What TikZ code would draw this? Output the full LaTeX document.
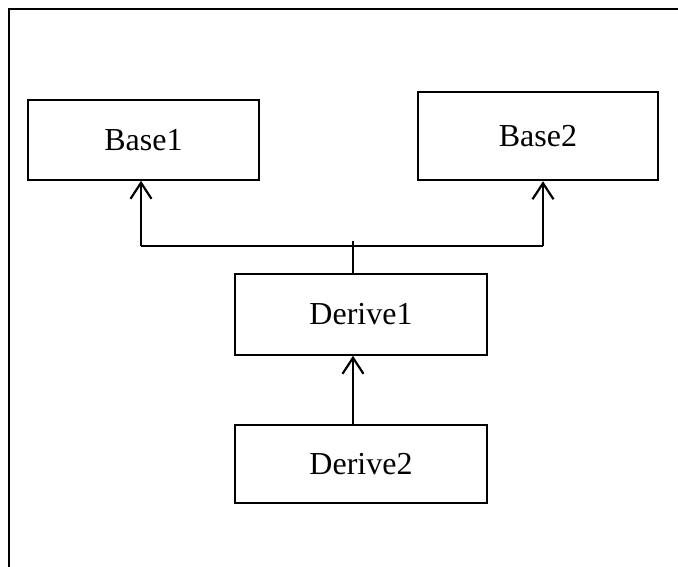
\documentclass[tikz,border=0pt]{standalone}
\usepackage{fontspec}
\setmainfont{Liberation Serif}
\usetikzlibrary{arrows.meta}
\begin{document}
\begin{tikzpicture}[x=1pt,y=-1pt,
  cls/.style={draw, line width=1.6pt, rectangle, inner sep=0pt, font=\fontsize{32}{37}\selectfont},
  conn/.style={line width=2.2pt},
  inh/.style={conn, -{Straight Barb[length=16pt,width=21pt,line width=2.2pt]}}]
\useasboundingbox (0,0) rectangle (678,567);
\draw[line width=2pt] (9,567) -- (9,9) -- (678,9);
\node[cls, minimum width=231pt, minimum height=80pt] (b1) at (143.5,140) {Base1};
\node[cls, line width=2.5pt, minimum width=240pt, minimum height=88pt] (b2) at (538,136) {Base2};
\node[cls, minimum width=252pt, minimum height=81pt] (d1) at (361,314.5) {Derive1};
\node[cls, minimum width=252pt, minimum height=78pt] (d2) at (361,464) {Derive2};
\coordinate (j) at (353,241);
\coordinate (jl) at (141,246);
\coordinate (jr) at (543,246);
\draw[conn] (d1.north -| j) -- (j);
\draw[conn] (jl) -- (jr);
\draw[inh] (jl) -- (jl |- b1.south);
\draw[inh] (jr) -- (jr |- b2.south);
\draw[inh] (d2.north -| j) -- (d1.south -| j);
\end{tikzpicture}
\end{document}
